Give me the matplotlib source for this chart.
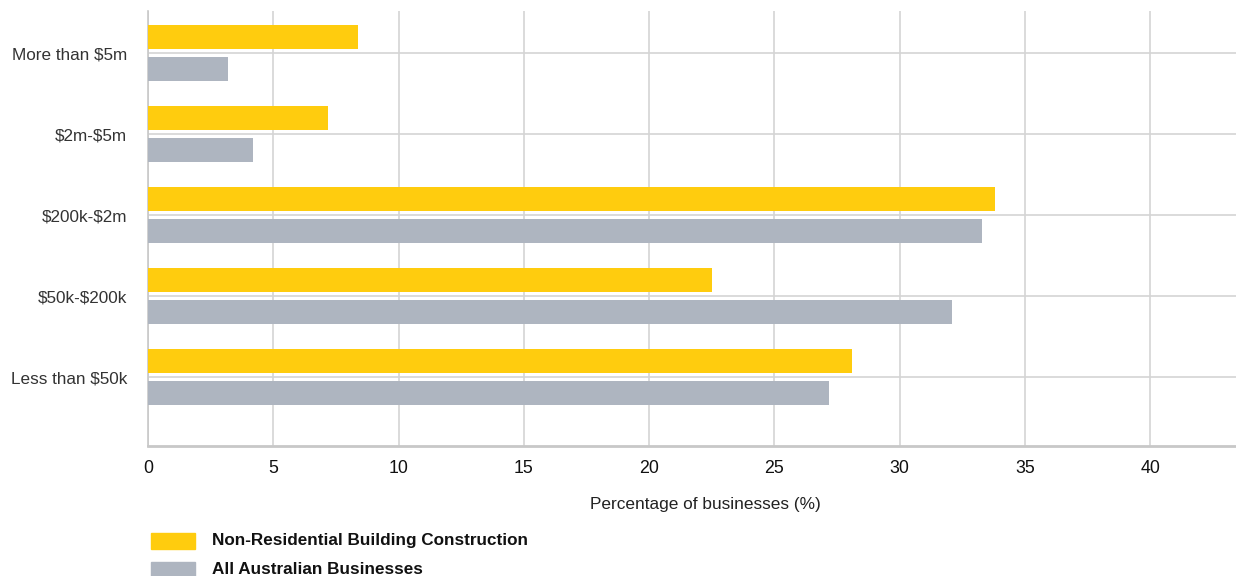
import numpy as np
import matplotlib.pyplot as plt
from matplotlib.patches import Rectangle

plt.rcParams['font.family'] = ['Liberation Sans', 'DejaVu Sans']
plt.rcParams['text.parse_math'] = False  # labels contain dollar signs

# Business turnover bands, top to bottom
categories = ["More than $5m", "$2m-$5m", "$200k-$2m", "$50k-$200k", "Less than $50k"]
non_res = [8.4, 7.2, 33.8, 22.5, 28.1]
all_aus = [3.2, 4.2, 33.3, 32.1, 27.2]
xticks = [0, 5, 10, 15, 20, 25, 30, 35, 40]

yellow = "#FFCC0E"
grey = "#AEB5C0"

fig = plt.figure(figsize=(12.36, 5.76), dpi=100)
ax = fig.add_axes([148 / 1236, 1 - 446 / 576, 1 - 148 / 1236, (446 - 11) / 576])

y = np.arange(len(categories))
ax.barh(y - 0.2, non_res, height=0.3, color=yellow, zorder=3)
ax.barh(y + 0.2, all_aus, height=0.3, color=grey, zorder=3)

ax.set_xlim(0, 43.43)
ax.set_ylim(4.85, -0.52)
ax.set_xticks(xticks)
ax.set_yticks(y)
ax.set_yticklabels(categories)
ax.tick_params(axis='y', length=0, pad=15, labelsize=12.3, labelcolor="#333333")
ax.tick_params(axis='x', length=0, pad=10, labelsize=12.8, labelcolor="#111111")

ax.grid(True, color="#D4D4D4", linewidth=1.2, zorder=0)
for side in ["top", "right"]:
    ax.spines[side].set_visible(False)
ax.spines["left"].set_color("#C8C8C8")
ax.spines["bottom"].set_color("#C8C8C8")
ax.spines["left"].set_linewidth(1.2)
ax.spines["bottom"].set_linewidth(2)

fig.text(705 / 1236, 1 - 505 / 576, "Percentage of businesses (%)",
         ha="center", va="center", fontsize=12.4, color="#222222")

# Legend drawn by hand below the axis
legend = [("Non-Residential Building Construction", yellow, 533),
          ("All Australian Businesses", grey, 562)]
for label, color, top in legend:
    fig.patches.append(Rectangle((151 / 1236, 1 - (top + 16) / 576), 44 / 1236, 16 / 576,
                                 transform=fig.transFigure, color=color))
    fig.text(212 / 1236, 1 - (top + 8) / 576, label, ha="left", va="center",
             fontsize=12.3, fontweight="bold", color="#111111")

plt.savefig("out.png")
